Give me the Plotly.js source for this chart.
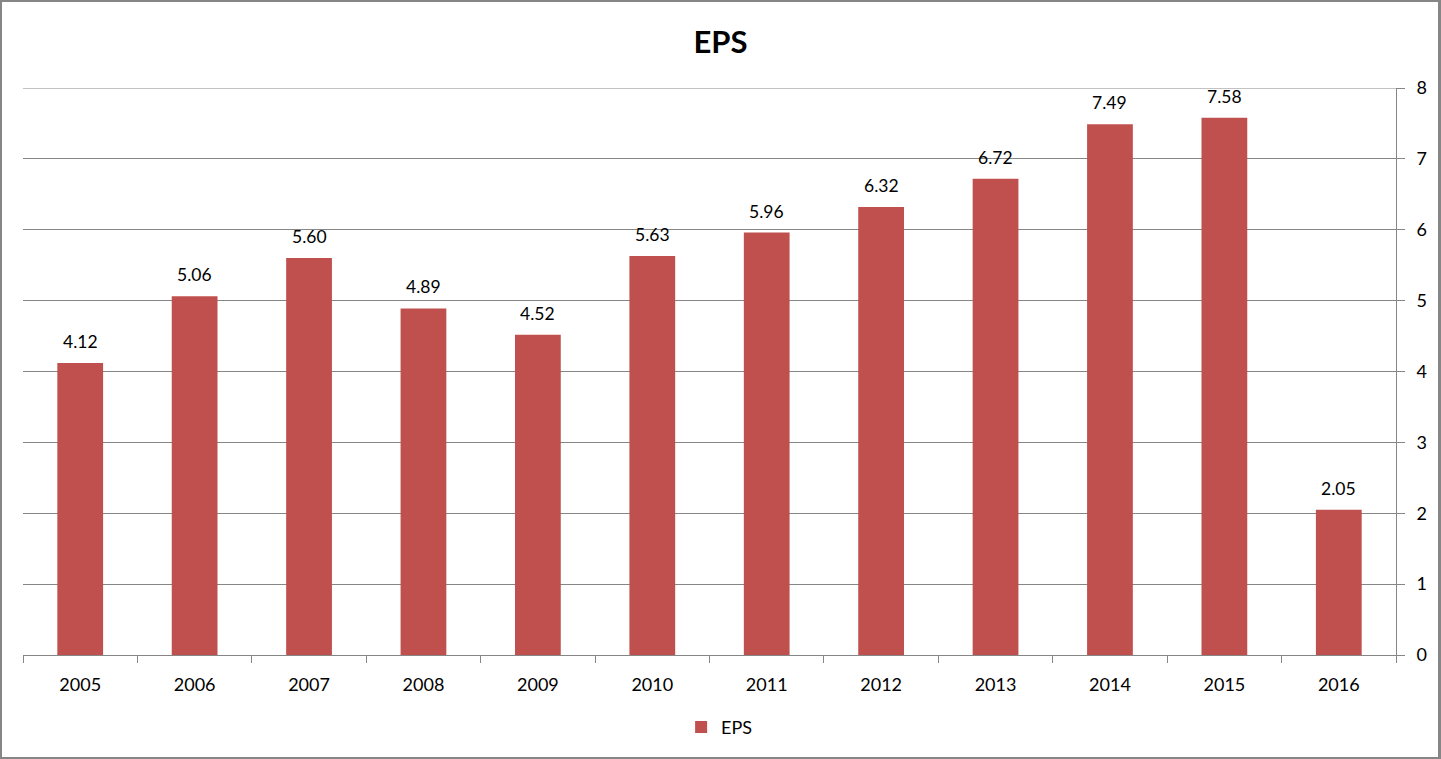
<!DOCTYPE html>
<html><head><meta charset="utf-8">
<script src="https://cdn.plot.ly/plotly-3.0.1.min.js"></script>
<style>
html,body{margin:0;padding:0;background:#fff;}
#wrap{position:relative;width:1441px;height:759px;}
#chart{width:1441px;height:759px;}
#frame{position:absolute;left:0;top:0;width:1441px;height:759px;box-sizing:border-box;border:2px solid #868686;border-right-width:3px;pointer-events:none;}
</style></head>
<body>
<div id="wrap"><div id="chart"></div><div id="frame"></div></div>
<script>
const years = ['2005','2006','2007','2008','2009','2010','2011','2012','2013','2014','2015','2016'];
const eps = [4.12,5.06,5.60,4.89,4.52,5.63,5.96,6.32,6.72,7.49,7.58,2.05];
const yTicks = [0,1,2,3,4,5,6,7,8];

const font = 'Lato, "Open Sans", "Liberation Sans", sans-serif';
const grid = '#868686';

const trace = {
  type:'bar', x: years, y: eps, name:'EPS',
  marker:{color:'#C0504D'},
  hoverinfo:'x+y'
};

const annotations = years.map((yr,i)=>({
  x: i, y: eps[i], xref:'x', yref:'y',
  text: eps[i].toFixed(2), showarrow:false,
  yanchor:'bottom', yshift:9,
  font:{family:font, size:17.5, color:'#000'}
}));

// top gridline at the last tick (Plotly omits it at the range edge)
const topTick = yTicks[yTicks.length-1];
const shapes = [{type:'line', xref:'paper', yref:'y', x0:0, x1:1, y0:topTick, y1:topTick,
  line:{color:grid, width:1}, layer:'below'}];

const layout = {
  width:1441, height:759,
  margin:{l:23, r:45, t:88, b:104},
  paper_bgcolor:'#fff', plot_bgcolor:'#fff',
  title:{text:'<b>EPS</b>', font:{family:font, size:31, color:'#000'}, x:0.5, xanchor:'center', y:0.945, yanchor:'middle'},
  bargap:0.6,
  showlegend:true,
  legend:{orientation:'h', x:0.507, xanchor:'center', y:-0.095, yanchor:'top', font:{family:font, size:18, color:'#000'}},
  xaxis:{type:'category', range:[-0.5,11.5], tickson:'boundaries', ticks:'outside', ticklen:7, tickcolor:grid,
    showline:true, linecolor:grid, linewidth:1, showgrid:false, tickangle:0,
    tickfont:{family:font, size:18, color:'#000'}, ticklabelstandoff:13},
  yaxis:{side:'right', range:[0,8], tickvals:yTicks, ticktext:yTicks.map(String),
    ticks:'outside', ticklen:8, tickcolor:grid, showline:true, linecolor:grid, linewidth:1,
    showgrid:true, gridcolor:grid, gridwidth:1, zeroline:false,
    tickfont:{family:font, size:18, color:'#000'}, ticklabelstandoff:8},
  annotations: annotations,
  shapes: shapes
};

Plotly.newPlot('chart',[trace],layout,{displayModeBar:false, staticPlot:true});
</script>
</body></html>
